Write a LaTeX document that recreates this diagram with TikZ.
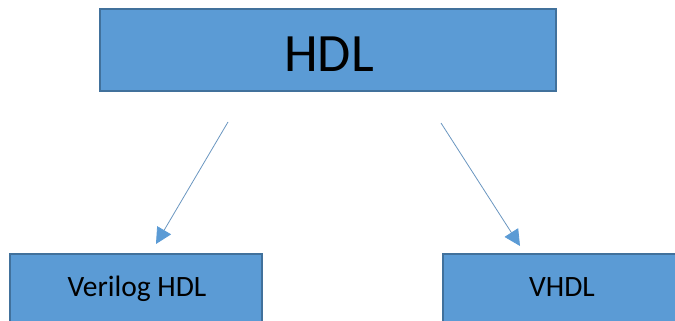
\documentclass[tikz,border=0pt]{standalone}
\usepackage{fontspec}
\setmainfont{Carlito}
\usetikzlibrary{arrows.meta}
\definecolor{boxfill}{HTML}{5B9BD5}
\definecolor{boxline}{HTML}{41719C}
\definecolor{linkline}{HTML}{6A96C0}
\tikzset{
  block/.style={draw=boxline, line width=2pt, fill=boxfill},
  label/.style={inner sep=0pt, anchor=base, text=black},
  link/.style={draw=linkline, line width=0.8pt,
    -{Triangle[length=16pt, width=16pt, color=boxfill, fill=boxfill]}}
}
\begin{document}
\begin{tikzpicture}[x=1pt, y=-1pt]
  \useasboundingbox (0,0) rectangle (675,321);
  \clip (0,0) rectangle (675,321);
  % boxes
  \path[block] (100,9) rectangle (556,91);
  \path[block] (10,254) rectangle (262,340);
  \path[block] (443,254) rectangle (700,340);
  % labels
  \node[label, font=\fontsize{54}{60}\selectfont] (hdl) at (329,71) {HDL};
  \node[label, font=\fontsize{29.5}{34}\selectfont] (verilog) at (137,296) {Verilog HDL};
  \node[label, font=\fontsize{29.5}{34}\selectfont] (vhdl) at (562,296) {VHDL};
  % connectors
  \coordinate (lstart) at (228,122);
  \coordinate (lend) at (156,244);
  \coordinate (rstart) at (441,123);
  \coordinate (rend) at (520,246);
  \draw[link] (lstart) -- (lend);
  \draw[link] (rstart) -- (rend);
\end{tikzpicture}
\end{document}
